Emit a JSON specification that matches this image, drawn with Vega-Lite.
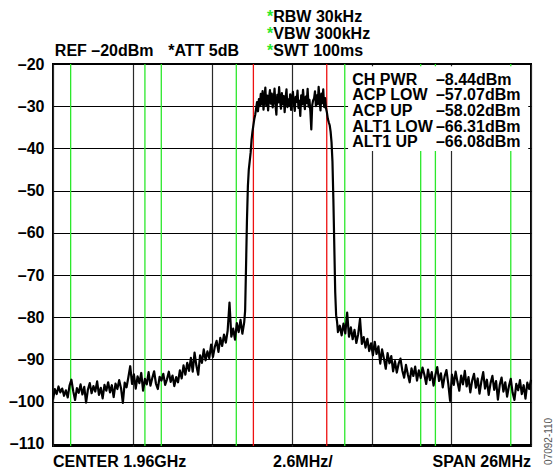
{
  "$schema": "https://vega.github.io/schema/vega-lite/v6.json",
  "width": 478,
  "height": 382,
  "autosize": "none",
  "padding": {"left": 53, "top": 64, "right": 23, "bottom": 24},
  "background": "white",
  "config": {
    "view": {"stroke": "#000", "strokeWidth": 2},
    "font": "Liberation Sans",
    "text": {"font": "Liberation Sans", "fontWeight": "bold", "fontSize": 16, "color": "#000", "baseline": "alphabetic"},
    "axisY": {"labelFont": "Liberation Sans", "labelFontWeight": "bold", "labelFontSize": 16, "labelColor": "#000", "labelPadding": 9, "ticks": false, "tickSize": 0, "domain": false, "grid": true, "gridColor": "#000", "gridWidth": 1.2, "gridOpacity": 1},
    "axisX": {"labels": false, "ticks": false, "tickSize": 0, "domain": false, "grid": true, "gridColor": "#2a2a2a", "gridWidth": 1.2, "gridOpacity": 1}
  },
  "datasets": {
    "one": [{}],
    "markers": [
      {"f": -12.04, "kind": "adjacent"},
      {"f": -8.0, "kind": "adjacent"},
      {"f": -7.11, "kind": "adjacent"},
      {"f": -3.03, "kind": "adjacent"},
      {"f": -2.1, "kind": "channel"},
      {"f": 1.89, "kind": "channel"},
      {"f": 2.87, "kind": "adjacent"},
      {"f": 7.0, "kind": "adjacent"},
      {"f": 7.8, "kind": "adjacent"},
      {"f": 11.9, "kind": "adjacent"}
    ],
    "trace": [
      {"f": -13.0, "dbm": -99.5}, {"f": -12.9, "dbm": -97.0}, {"f": -12.8, "dbm": -98.2}, {"f": -12.7, "dbm": -96.4},
      {"f": -12.6, "dbm": -97.8}, {"f": -12.5, "dbm": -96.9}, {"f": -12.4, "dbm": -98.6}, {"f": -12.3, "dbm": -97.3},
      {"f": -12.2, "dbm": -99.0}, {"f": -12.1, "dbm": -96.2}, {"f": -12.0, "dbm": -94.8}, {"f": -11.9, "dbm": -97.5},
      {"f": -11.8, "dbm": -99.6}, {"f": -11.7, "dbm": -96.8}, {"f": -11.6, "dbm": -97.9}, {"f": -11.5, "dbm": -95.9},
      {"f": -11.4, "dbm": -98.3}, {"f": -11.3, "dbm": -96.5}, {"f": -11.2, "dbm": -100.2}, {"f": -11.1, "dbm": -97.1},
      {"f": -11.0, "dbm": -95.6}, {"f": -10.9, "dbm": -98.0}, {"f": -10.8, "dbm": -96.3}, {"f": -10.7, "dbm": -97.6},
      {"f": -10.6, "dbm": -95.2}, {"f": -10.5, "dbm": -98.4}, {"f": -10.4, "dbm": -96.7}, {"f": -10.3, "dbm": -99.2},
      {"f": -10.2, "dbm": -96.0}, {"f": -10.1, "dbm": -97.4}, {"f": -10.0, "dbm": -95.4}, {"f": -9.9, "dbm": -97.8},
      {"f": -9.8, "dbm": -96.1}, {"f": -9.7, "dbm": -98.9}, {"f": -9.6, "dbm": -95.7}, {"f": -9.5, "dbm": -97.0},
      {"f": -9.4, "dbm": -94.9}, {"f": -9.3, "dbm": -96.8}, {"f": -9.2, "dbm": -100.3}, {"f": -9.1, "dbm": -95.5},
      {"f": -9.0, "dbm": -96.6}, {"f": -8.9, "dbm": -94.2}, {"f": -8.8, "dbm": -91.6}, {"f": -8.7, "dbm": -95.8},
      {"f": -8.6, "dbm": -93.5}, {"f": -8.5, "dbm": -96.9}, {"f": -8.4, "dbm": -94.0}, {"f": -8.3, "dbm": -95.6},
      {"f": -8.2, "dbm": -93.2}, {"f": -8.1, "dbm": -97.4}, {"f": -8.0, "dbm": -94.6}, {"f": -7.9, "dbm": -95.9},
      {"f": -7.8, "dbm": -93.0}, {"f": -7.7, "dbm": -96.2}, {"f": -7.6, "dbm": -94.4}, {"f": -7.5, "dbm": -92.8},
      {"f": -7.4, "dbm": -95.7}, {"f": -7.3, "dbm": -97.0}, {"f": -7.2, "dbm": -94.1}, {"f": -7.1, "dbm": -95.0},
      {"f": -7.0, "dbm": -93.4}, {"f": -6.9, "dbm": -96.0}, {"f": -6.8, "dbm": -94.7}, {"f": -6.7, "dbm": -92.9},
      {"f": -6.6, "dbm": -95.3}, {"f": -6.5, "dbm": -93.8}, {"f": -6.4, "dbm": -96.3}, {"f": -6.3, "dbm": -94.2},
      {"f": -6.2, "dbm": -95.4}, {"f": -6.1, "dbm": -92.6}, {"f": -6.0, "dbm": -94.5}, {"f": -5.9, "dbm": -91.4},
      {"f": -5.8, "dbm": -93.6}, {"f": -5.7, "dbm": -90.8}, {"f": -5.6, "dbm": -92.7}, {"f": -5.5, "dbm": -89.6},
      {"f": -5.4, "dbm": -92.9}, {"f": -5.3, "dbm": -88.4}, {"f": -5.2, "dbm": -91.5}, {"f": -5.1, "dbm": -93.6},
      {"f": -5.0, "dbm": -89.0}, {"f": -4.9, "dbm": -90.8}, {"f": -4.8, "dbm": -87.6}, {"f": -4.7, "dbm": -90.2},
      {"f": -4.6, "dbm": -88.1}, {"f": -4.5, "dbm": -89.7}, {"f": -4.4, "dbm": -86.5}, {"f": -4.3, "dbm": -89.4},
      {"f": -4.2, "dbm": -87.0}, {"f": -4.1, "dbm": -85.6}, {"f": -4.0, "dbm": -88.2}, {"f": -3.9, "dbm": -84.9},
      {"f": -3.8, "dbm": -86.8}, {"f": -3.7, "dbm": -84.1}, {"f": -3.6, "dbm": -86.0}, {"f": -3.5, "dbm": -83.2},
      {"f": -3.4, "dbm": -76.5}, {"f": -3.3, "dbm": -84.6}, {"f": -3.2, "dbm": -82.7}, {"f": -3.1, "dbm": -85.3},
      {"f": -3.0, "dbm": -81.4}, {"f": -2.9, "dbm": -83.5}, {"f": -2.8, "dbm": -80.6}, {"f": -2.7, "dbm": -83.9},
      {"f": -2.6, "dbm": -81.2}, {"f": -2.55, "dbm": -78.5}, {"f": -2.5, "dbm": -68.0}, {"f": -2.45, "dbm": -57.0},
      {"f": -2.4, "dbm": -49.0}, {"f": -2.35, "dbm": -45.0}, {"f": -2.3, "dbm": -43.0}, {"f": -2.25, "dbm": -41.0},
      {"f": -2.2, "dbm": -38.0}, {"f": -2.15, "dbm": -36.0}, {"f": -2.1, "dbm": -34.5}, {"f": -2.05, "dbm": -33.0},
      {"f": -2.0, "dbm": -32.0}, {"f": -1.95, "dbm": -30.5}, {"f": -1.9, "dbm": -29.0}, {"f": -1.85, "dbm": -31.2},
      {"f": -1.8, "dbm": -28.3}, {"f": -1.75, "dbm": -30.0}, {"f": -1.7, "dbm": -27.1}, {"f": -1.65, "dbm": -29.6},
      {"f": -1.6, "dbm": -26.4}, {"f": -1.55, "dbm": -30.8}, {"f": -1.5, "dbm": -28.2}, {"f": -1.45, "dbm": -25.6},
      {"f": -1.4, "dbm": -29.9}, {"f": -1.35, "dbm": -27.5}, {"f": -1.3, "dbm": -31.0}, {"f": -1.25, "dbm": -28.0},
      {"f": -1.2, "dbm": -26.2}, {"f": -1.15, "dbm": -29.4}, {"f": -1.1, "dbm": -27.0}, {"f": -1.05, "dbm": -30.3},
      {"f": -1.0, "dbm": -28.6}, {"f": -0.95, "dbm": -25.8}, {"f": -0.9, "dbm": -29.7}, {"f": -0.85, "dbm": -32.0},
      {"f": -0.8, "dbm": -27.3}, {"f": -0.75, "dbm": -29.1}, {"f": -0.7, "dbm": -25.5}, {"f": -0.65, "dbm": -28.8},
      {"f": -0.6, "dbm": -30.6}, {"f": -0.55, "dbm": -26.9}, {"f": -0.5, "dbm": -29.5}, {"f": -0.45, "dbm": -27.6},
      {"f": -0.4, "dbm": -31.4}, {"f": -0.35, "dbm": -28.1}, {"f": -0.3, "dbm": -26.0}, {"f": -0.25, "dbm": -30.2},
      {"f": -0.2, "dbm": -28.4}, {"f": -0.15, "dbm": -29.8}, {"f": -0.1, "dbm": -27.2}, {"f": -0.05, "dbm": -30.9},
      {"f": 0.0, "dbm": -28.0}, {"f": 0.05, "dbm": -26.6}, {"f": 0.1, "dbm": -29.3}, {"f": 0.15, "dbm": -31.1},
      {"f": 0.2, "dbm": -27.8}, {"f": 0.25, "dbm": -29.0}, {"f": 0.3, "dbm": -26.3}, {"f": 0.35, "dbm": -30.4},
      {"f": 0.4, "dbm": -28.7}, {"f": 0.45, "dbm": -32.3}, {"f": 0.5, "dbm": -27.4}, {"f": 0.55, "dbm": -29.6},
      {"f": 0.6, "dbm": -26.1}, {"f": 0.65, "dbm": -28.9}, {"f": 0.7, "dbm": -30.7}, {"f": 0.75, "dbm": -27.7},
      {"f": 0.8, "dbm": -29.2}, {"f": 0.85, "dbm": -25.9}, {"f": 0.9, "dbm": -30.1}, {"f": 0.95, "dbm": -28.5},
      {"f": 1.0, "dbm": -31.3}, {"f": 1.05, "dbm": -35.5}, {"f": 1.1, "dbm": -29.7}, {"f": 1.15, "dbm": -28.6},
      {"f": 1.2, "dbm": -28.2}, {"f": 1.25, "dbm": -26.5}, {"f": 1.3, "dbm": -30.0}, {"f": 1.35, "dbm": -27.4},
      {"f": 1.4, "dbm": -29.5}, {"f": 1.45, "dbm": -25.4}, {"f": 1.5, "dbm": -28.8}, {"f": 1.55, "dbm": -31.0},
      {"f": 1.6, "dbm": -27.0}, {"f": 1.65, "dbm": -29.3}, {"f": 1.7, "dbm": -26.0}, {"f": 1.75, "dbm": -30.2},
      {"f": 1.8, "dbm": -28.1}, {"f": 1.85, "dbm": -30.5}, {"f": 1.9, "dbm": -31.5}, {"f": 1.95, "dbm": -33.0},
      {"f": 2.0, "dbm": -33.8}, {"f": 2.05, "dbm": -34.5}, {"f": 2.1, "dbm": -36.0}, {"f": 2.15, "dbm": -38.5},
      {"f": 2.2, "dbm": -43.0}, {"f": 2.25, "dbm": -52.0}, {"f": 2.3, "dbm": -63.0}, {"f": 2.35, "dbm": -74.0},
      {"f": 2.4, "dbm": -79.5}, {"f": 2.45, "dbm": -81.0}, {"f": 2.5, "dbm": -83.5}, {"f": 2.6, "dbm": -82.0},
      {"f": 2.7, "dbm": -84.3}, {"f": 2.8, "dbm": -81.5}, {"f": 2.9, "dbm": -83.8}, {"f": 3.0, "dbm": -78.9},
      {"f": 3.1, "dbm": -84.6}, {"f": 3.2, "dbm": -82.4}, {"f": 3.3, "dbm": -85.2}, {"f": 3.4, "dbm": -83.0},
      {"f": 3.5, "dbm": -86.1}, {"f": 3.6, "dbm": -84.0}, {"f": 3.7, "dbm": -80.4}, {"f": 3.8, "dbm": -86.3},
      {"f": 3.9, "dbm": -84.7}, {"f": 4.0, "dbm": -87.2}, {"f": 4.1, "dbm": -85.1}, {"f": 4.2, "dbm": -88.0},
      {"f": 4.3, "dbm": -86.2}, {"f": 4.4, "dbm": -89.0}, {"f": 4.5, "dbm": -85.8}, {"f": 4.6, "dbm": -88.7},
      {"f": 4.7, "dbm": -86.9}, {"f": 4.8, "dbm": -91.0}, {"f": 4.9, "dbm": -87.6}, {"f": 5.0, "dbm": -89.8},
      {"f": 5.1, "dbm": -92.2}, {"f": 5.2, "dbm": -88.5}, {"f": 5.3, "dbm": -90.9}, {"f": 5.4, "dbm": -89.2},
      {"f": 5.5, "dbm": -92.8}, {"f": 5.6, "dbm": -90.4}, {"f": 5.7, "dbm": -93.1}, {"f": 5.8, "dbm": -91.0},
      {"f": 5.9, "dbm": -89.8}, {"f": 6.0, "dbm": -92.6}, {"f": 6.1, "dbm": -94.3}, {"f": 6.2, "dbm": -91.3},
      {"f": 6.3, "dbm": -93.5}, {"f": 6.4, "dbm": -95.4}, {"f": 6.5, "dbm": -92.1}, {"f": 6.6, "dbm": -93.9},
      {"f": 6.7, "dbm": -91.7}, {"f": 6.8, "dbm": -95.0}, {"f": 6.9, "dbm": -92.6}, {"f": 7.0, "dbm": -94.4},
      {"f": 7.1, "dbm": -91.9}, {"f": 7.2, "dbm": -93.6}, {"f": 7.3, "dbm": -95.8}, {"f": 7.4, "dbm": -92.4},
      {"f": 7.5, "dbm": -94.9}, {"f": 7.6, "dbm": -93.0}, {"f": 7.7, "dbm": -96.2}, {"f": 7.8, "dbm": -93.7},
      {"f": 7.9, "dbm": -91.8}, {"f": 8.0, "dbm": -95.1}, {"f": 8.1, "dbm": -93.3}, {"f": 8.2, "dbm": -96.6},
      {"f": 8.3, "dbm": -94.0}, {"f": 8.4, "dbm": -92.5}, {"f": 8.5, "dbm": -95.7}, {"f": 8.6, "dbm": -99.8},
      {"f": 8.7, "dbm": -93.6}, {"f": 8.8, "dbm": -96.0}, {"f": 8.9, "dbm": -92.9}, {"f": 9.0, "dbm": -95.3},
      {"f": 9.1, "dbm": -97.4}, {"f": 9.2, "dbm": -93.8}, {"f": 9.3, "dbm": -95.9}, {"f": 9.4, "dbm": -92.7},
      {"f": 9.5, "dbm": -96.4}, {"f": 9.6, "dbm": -94.2}, {"f": 9.7, "dbm": -97.8}, {"f": 9.8, "dbm": -95.0},
      {"f": 9.9, "dbm": -93.4}, {"f": 10.0, "dbm": -96.7}, {"f": 10.1, "dbm": -94.5}, {"f": 10.2, "dbm": -98.1},
      {"f": 10.3, "dbm": -95.2}, {"f": 10.4, "dbm": -93.0}, {"f": 10.5, "dbm": -96.9}, {"f": 10.6, "dbm": -94.8},
      {"f": 10.7, "dbm": -98.4}, {"f": 10.8, "dbm": -95.6}, {"f": 10.9, "dbm": -93.9}, {"f": 11.0, "dbm": -97.2},
      {"f": 11.1, "dbm": -95.1}, {"f": 11.2, "dbm": -99.5}, {"f": 11.3, "dbm": -96.0}, {"f": 11.4, "dbm": -94.3},
      {"f": 11.5, "dbm": -97.6}, {"f": 11.6, "dbm": -95.4}, {"f": 11.7, "dbm": -98.8}, {"f": 11.8, "dbm": -96.3},
      {"f": 11.9, "dbm": -94.6}, {"f": 12.0, "dbm": -97.9}, {"f": 12.1, "dbm": -99.6}, {"f": 12.2, "dbm": -95.8},
      {"f": 12.3, "dbm": -97.3}, {"f": 12.4, "dbm": -94.9}, {"f": 12.5, "dbm": -98.2}, {"f": 12.6, "dbm": -96.1},
      {"f": 12.7, "dbm": -99.3}, {"f": 12.8, "dbm": -95.5}, {"f": 12.9, "dbm": -97.0}, {"f": 13.0, "dbm": -94.8}
    ]
  },
  "layer": [
    {
      "data": {"name": "markers"},
      "mark": {"type": "rule", "strokeWidth": 1.3},
      "encoding": {
        "x": {"field": "f", "type": "quantitative", "title": null,
              "scale": {"domain": [-13, 13], "nice": false, "zero": false},
              "axis": {"values": [-13, -8.6667, -4.3333, 0, 4.3333, 8.6667, 13]}},
        "color": {"field": "kind", "type": "nominal", "legend": null,
                  "scale": {"domain": ["adjacent", "channel"], "range": ["#2be82b", "#ee1111"]}}
      }
    },
    {
      "data": {"name": "trace"},
      "mark": {"type": "line", "color": "#000", "strokeWidth": 2.2, "strokeJoin": "round"},
      "encoding": {
        "x": {"field": "f", "type": "quantitative", "title": null,
              "scale": {"domain": [-13, 13], "nice": false, "zero": false},
              "axis": {"values": [-13, -8.6667, -4.3333, 0, 4.3333, 8.6667, 13]}},
        "y": {"field": "dbm", "type": "quantitative", "title": null,
              "scale": {"domain": [-110.5, -20], "nice": false, "zero": false},
              "axis": {"values": [-110, -100, -90, -80, -70, -60, -50, -40, -30, -20], "labelExpr": "'–' + abs(datum.value)"}}
      }
    },
    {
      "data": {"name": "one"},
      "mark": {"type": "rect", "fill": "white", "stroke": null},
      "encoding": {
        "x": {"datum": 3.05, "type": "quantitative"},
        "x2": {"datum": 12.85},
        "y": {"datum": -40.6, "type": "quantitative"},
        "y2": {"datum": -20.55}
      }
    },
    {
      "data": {"name": "one"},
      "mark": {"type": "text", "align": "left", "lineHeight": 15.7,
               "text": ["CH PWR", "ACP LOW", "ACP UP", "ALT1 LOW", "ALT1 UP"]},
      "encoding": {"x": {"datum": 3.28, "type": "quantitative"}, "y": {"datum": -24.9, "type": "quantitative"}}
    },
    {
      "data": {"name": "one"},
      "mark": {"type": "text", "align": "left", "lineHeight": 15.7,
               "text": ["–8.44dBm", "–57.07dBm", "–58.02dBm", "–66.31dBm", "–66.08dBm"]},
      "encoding": {"x": {"datum": 7.83, "type": "quantitative"}, "y": {"datum": -24.9, "type": "quantitative"}}
    },
    {
      "data": {"name": "one"},
      "mark": {"type": "text", "align": "left", "text": "REF –20dBm"},
      "encoding": {"x": {"datum": -12.9, "type": "quantitative"}, "y": {"datum": -18.03, "type": "quantitative"}}
    },
    {
      "data": {"name": "one"},
      "mark": {"type": "text", "align": "left", "text": "*ATT 5dB"},
      "encoding": {"x": {"datum": -6.73, "type": "quantitative"}, "y": {"datum": -18.03, "type": "quantitative"}}
    },
    {
      "data": {"name": "one"},
      "mark": {"type": "text", "align": "left", "lineHeight": 17,
               "text": ["RBW 30kHz", "VBW 300kHz", "SWT 100ms"]},
      "encoding": {"x": {"datum": -1.02, "type": "quantitative"}, "y": {"datum": -9.96, "type": "quantitative"}}
    },
    {
      "data": {"name": "one"},
      "mark": {"type": "text", "align": "right", "lineHeight": 17, "color": "#2be82b",
               "text": ["*", "*", "*"]},
      "encoding": {"x": {"datum": -1.02, "type": "quantitative"}, "y": {"datum": -9.96, "type": "quantitative"}}
    },
    {
      "data": {"name": "one"},
      "mark": {"type": "text", "align": "left", "text": "CENTER 1.96GHz"},
      "encoding": {"x": {"datum": -13, "type": "quantitative"}, "y": {"datum": -115.4, "type": "quantitative"}}
    },
    {
      "data": {"name": "one"},
      "mark": {"type": "text", "align": "left", "text": "2.6MHz/"},
      "encoding": {"x": {"datum": -1.03, "type": "quantitative"}, "y": {"datum": -115.4, "type": "quantitative"}}
    },
    {
      "data": {"name": "one"},
      "mark": {"type": "text", "align": "right", "text": "SPAN 26MHz"},
      "encoding": {"x": {"datum": 13, "type": "quantitative"}, "y": {"datum": -115.4, "type": "quantitative"}}
    },
    {
      "data": {"name": "one"},
      "mark": {"type": "text", "align": "center", "baseline": "middle", "angle": 270, "fontWeight": "normal", "fontSize": 10, "color": "#555", "text": "07092-110"},
      "encoding": {"x": {"datum": 13.98, "type": "quantitative"}, "y": {"datum": -109.4, "type": "quantitative"}}
    }
  ]
}
